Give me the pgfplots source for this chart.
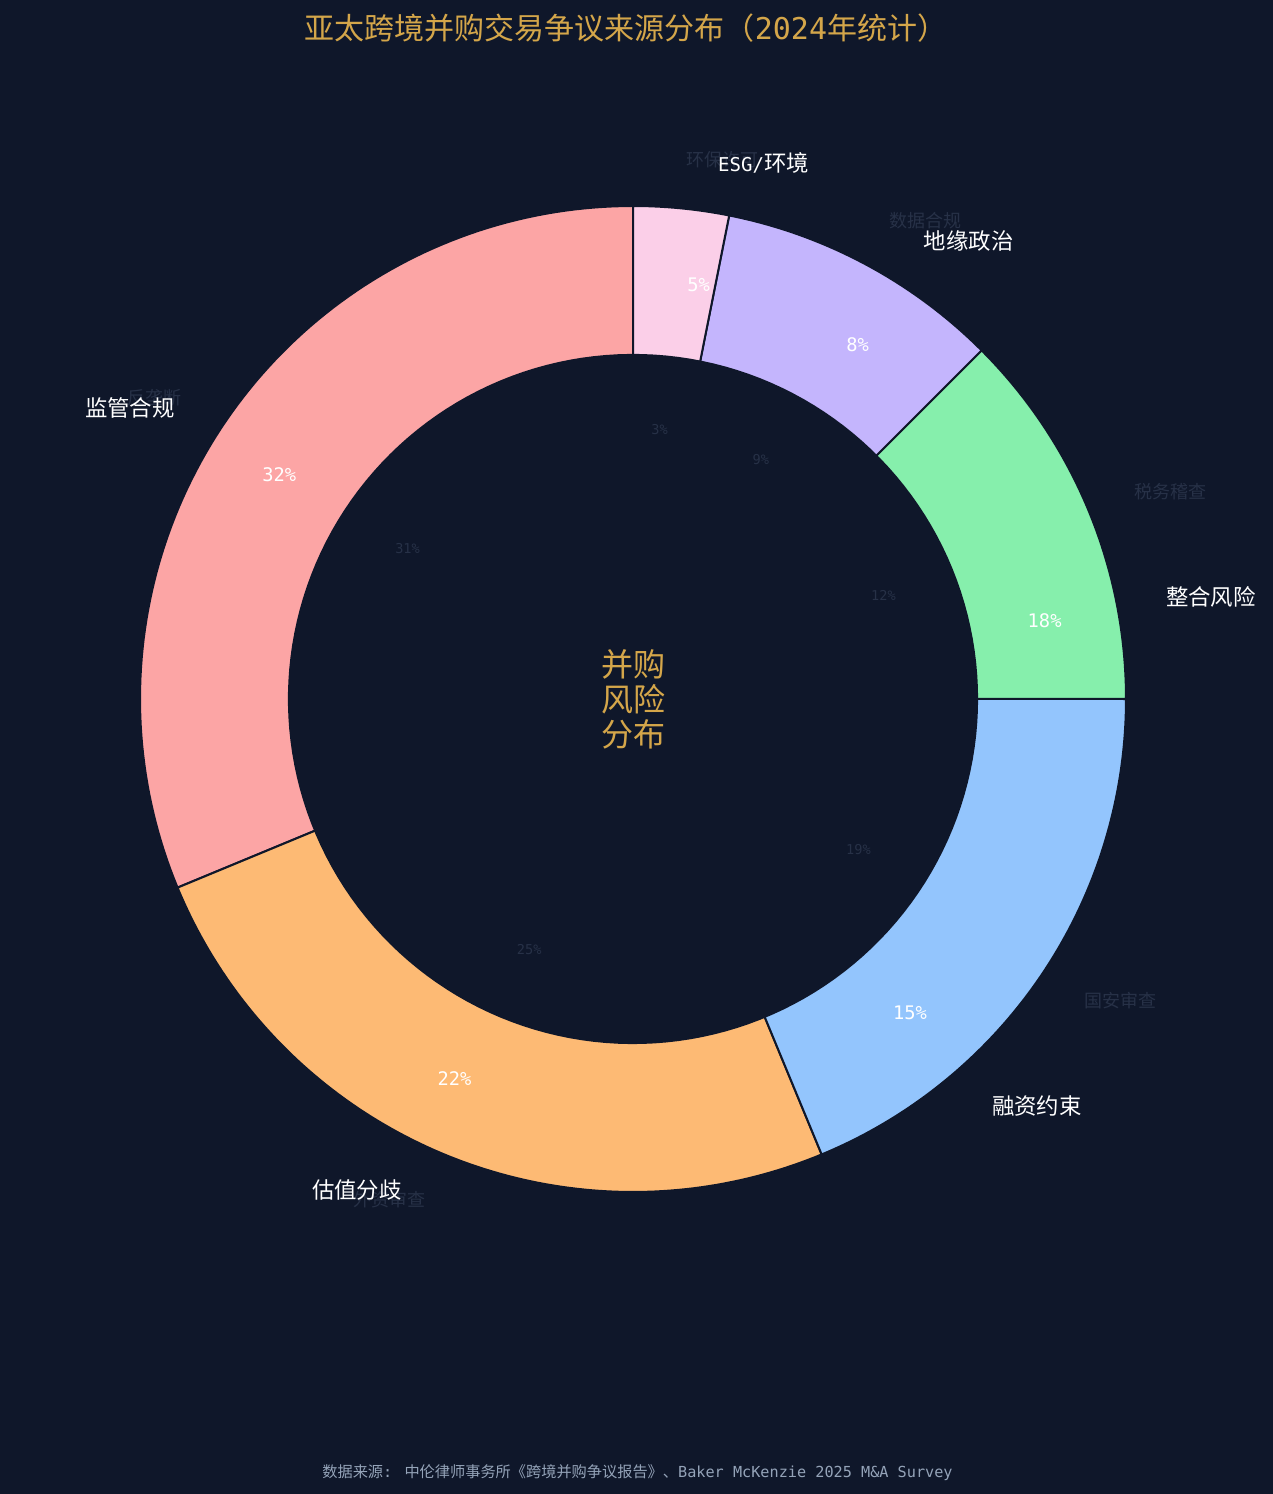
\documentclass[border=0pt]{standalone}
\usepackage{pgfplots}
\pgfplotsset{compat=1.18}
\usepackage{fontspec}
\setmainfont{Noto Sans CJK SC}
\newfontfamily\mono{DejaVu Sans Mono}[Scale=0.85]
\newfontfamily\monofull{DejaVu Sans Mono}

\definecolor{bgc}{HTML}{0F172A}
\definecolor{gold}{HTML}{D4A64A}
\definecolor{faint}{HTML}{273147}
\definecolor{foot}{HTML}{94A3B8}
\definecolor{c1}{HTML}{FCA5A5}
\definecolor{c2}{HTML}{FDBA74}
\definecolor{c3}{HTML}{93C5FD}
\definecolor{c4}{HTML}{86EFAC}
\definecolor{c5}{HTML}{C4B5FD}
\definecolor{c6}{HTML}{FBCFE8}

% ring wedge: from, to (counts out of 32, counter-clockwise from top), colour
\newcommand\ringwedge[3]{%
  \addplot[fill=#3, draw=bgc, line width=1pt, domain=#1:#2, samples=100]
    ({cos(90+11.25*x)}, {sin(90+11.25*x)}) -- (axis cs:0,0) -- cycle;
}
\newcommand\esg{{\mono ESG/}环境}

\begin{document}
\begin{tikzpicture}
\fill[bgc] (0,0) rectangle (636.5pt,747pt);

\begin{axis}[
  at={(316.5pt,397.5pt)}, anchor=origin,
  x=246.5pt, y=246.5pt,
  xmin=-1.2, xmax=1.2, ymin=-1.2, ymax=1.2,
  hide axis, clip=false, no markers
]
  % counts: 10, 8, 6, 4, 3, 1
  \ringwedge{0}{10}{c1}
  \ringwedge{10}{18}{c2}
  \ringwedge{18}{24}{c3}
  \ringwedge{24}{28}{c4}
  \ringwedge{28}{31}{c5}
  \ringwedge{31}{32}{c6}
  % hole
  \addplot[fill=bgc, draw=none, domain=0:360, samples=180]
    ({0.7*cos(x)}, {0.7*sin(x)}) -- cycle;
\end{axis}

\begin{scope}[shift={(316.5pt,397.5pt)}, x=246.5pt, y=246.5pt]
  % faint labels of the hidden series
  \foreach \s/\v/\p/\name in {0/10/31/反垄断, 10/8/25/外资审查, 18/6/19/国安审查,
      24/4/12/税务稽查, 28/3/9/数据合规, 31/1/3/环保许可}{
    \pgfmathsetmacro\m{90+11.25*(\s+\v/2)}
    \pgfmathparse{cos(\m)<0 ? "east" : "west"}\edef\anc{\pgfmathresult}
    \node[anchor=\anc, inner sep=0pt, text=faint, font=\fontsize{9}{11}\selectfont] at (\m:1.1) {\name};
    \node[inner sep=0pt, text=faint, font=\mono\fontsize{8}{9}\selectfont] at (\m:0.55) {\p\%};
  }
  % visible labels (percent shares)
  \foreach \s/\v/\name in {0/32/监管合规, 32/22/估值分歧, 54/15/融资约束,
      69/18/整合风险, 87/8/地缘政治, 95/5/\esg}{
    \pgfmathsetmacro\m{90+3.6*(\s+\v/2)}
    \pgfmathparse{cos(\m)<0 ? "east" : "west"}\edef\anc{\pgfmathresult}
    \node[anchor=\anc, inner sep=0pt, text=white, font=\fontsize{11.2}{13}\selectfont] at (\m:1.1) {\name};
    \node[inner sep=0pt, text=white, font=\mono\fontsize{11}{13}\selectfont] at (\m:0.85) {\v\%};
  }
\end{scope}

\node[align=center, text=gold, font=\fontsize{16}{17.5}\selectfont] at (316.5pt,397.5pt) {并购\\风险\\分布};

\node[text=gold, font=\fontsize{15}{18}\selectfont] at (313pt,733pt)
  {亚太跨境并购交易争议来源分布（{\monofull 2024}年统计）};

\node[text=foot, font=\fontsize{7.6}{9}\selectfont] at (318.75pt,10.5pt)
  {数据来源{\monofull: }中伦律师事务所《跨境并购争议报告》、{\monofull Baker McKenzie 2025 M\&A Survey}};

\pgfresetboundingbox
\path[use as bounding box] (0,0) rectangle (636.5pt,747pt);
\end{tikzpicture}
\end{document}
